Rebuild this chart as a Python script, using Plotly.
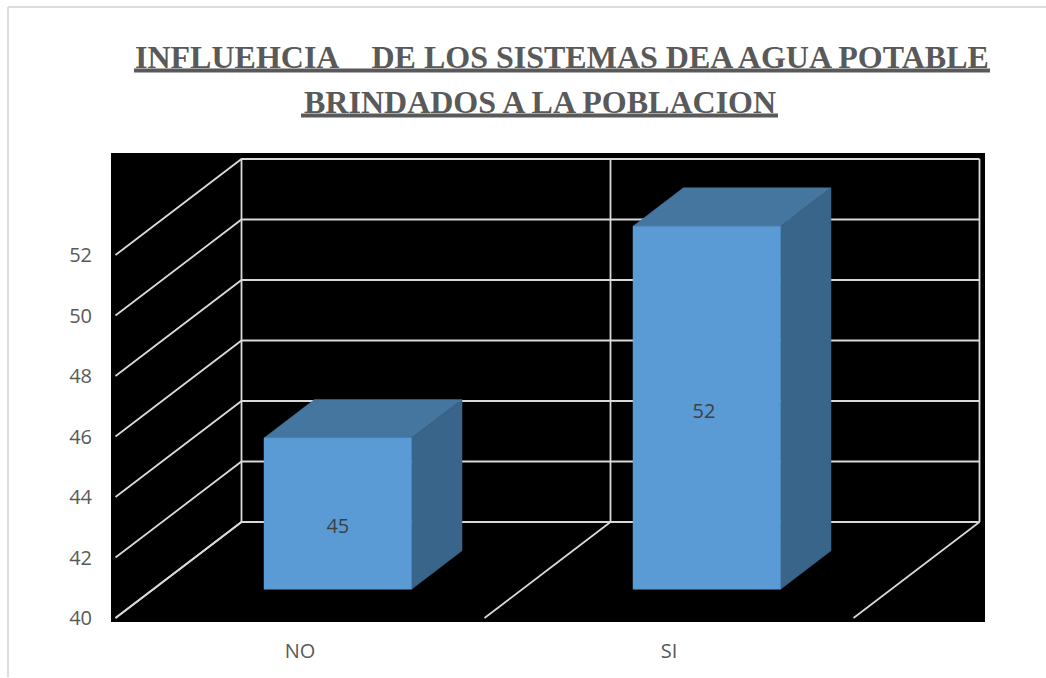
import plotly.graph_objects as go

categories = ["NO", "SI"]
values = [45, 52]
y_ticks = [40, 42, 44, 46, 48, 50, 52]
label_x = [0.1025, 1.095]
label_y = [42.02, 45.82]
title_lines = ["INFLUEHCIA\u00a0\u00a0\u00a0 DE LOS SISTEMAS DEA AGUA POTABLE",
               "BRINDADOS A LA POBLACION"]

W, H = 1046, 678
L, R, T, B = 111, 985, 153, 622
PX_PER_CAT, PX_PER_UNIT = 369.0, 30.25
X0_PX, Y40_PX = 300.0, 618.0
DX, DY = 126 / PX_PER_CAT, 96 / PX_PER_UNIT
BASE = 40
BAR_W = 0.4
D0, D1 = 0.30, 0.70
GRID = "#D9D9D9"
TXT = "#595959"
FONT = "Open Sans"


def pr(x, v, d):
    return x + d * DX, v + d * DY


def poly(pts, color):
    xs, ys = zip(*pts)
    return go.Scatter(x=list(xs) + [xs[0]], y=list(ys) + [ys[0]], mode="lines", fill="toself",
                      fillcolor=color, line=dict(color=color, width=0.5),
                      hoverinfo="skip", showlegend=False)


def seg(pts):
    xs, ys = zip(*pts)
    return go.Scatter(x=list(xs), y=list(ys), mode="lines", line=dict(color=GRID, width=1.8),
                      hoverinfo="skip", showlegend=False)


fig = go.Figure()
x_lo, x_hi = -0.5, len(categories) - 0.5
y_top = y_ticks[-1]

for v in y_ticks:
    fig.add_trace(seg([pr(x_lo, v, 0), pr(x_lo, v, 1), pr(x_hi, v, 1)]))
for i in range(len(categories) + 1):
    x = x_lo + i
    fig.add_trace(seg([pr(x, BASE, 0), pr(x, BASE, 1)]))
    fig.add_trace(seg([pr(x, BASE, 1), pr(x, y_top, 1)]))

for i, v in enumerate(values):
    a, b = i - BAR_W / 2, i + BAR_W / 2
    fig.add_trace(poly([pr(a, v, D0), pr(b, v, D0), pr(b, v, D1), pr(a, v, D1)], "#44769F"))
    fig.add_trace(poly([pr(b, BASE, D0), pr(b, v, D0), pr(b, v, D1), pr(b, BASE, D1)], "#3A658A"))
    fig.add_trace(poly([pr(a, BASE, D0), pr(b, BASE, D0), pr(b, v, D0), pr(a, v, D0)], "#5B9BD5"))

fig.add_trace(go.Scatter(x=label_x,
                         y=[ly + D0 * DY for ly in label_y],
                         mode="text", text=[str(v) for v in values],
                         textfont=dict(family=FONT, size=20, color="#404040"),
                         textposition="middle center", hoverinfo="skip", showlegend=False))

fig.update_xaxes(range=[(L - X0_PX) / PX_PER_CAT, (R - X0_PX) / PX_PER_CAT],
                 tickmode="array", tickvals=list(range(len(categories))), ticktext=categories,
                 showgrid=False, zeroline=False, showline=False, ticks="",
                 ticklabelstandoff=15, tickfont=dict(family=FONT, size=20, color=TXT))
fig.update_yaxes(range=[40 + (Y40_PX - B) / PX_PER_UNIT, 40 + (Y40_PX - T) / PX_PER_UNIT],
                 tickmode="array", tickvals=y_ticks,
                 showgrid=False, zeroline=False, showline=False, ticks="",
                 ticklabelstandoff=18, tickfont=dict(family=FONT, size=20, color=TXT))


def px(x):
    return (x - L) / (R - L)


def py(y):
    return (B - y) / (B - T)


fig.add_annotation(xref="paper", yref="paper", x=px(562), y=py(57), xanchor="center", yanchor="middle",
                   text="<b>%s</b>" % title_lines[0], showarrow=False,
                   font=dict(family="Liberation Serif", size=32, color=TXT))
fig.add_annotation(xref="paper", yref="paper", x=px(540), y=py(102), xanchor="center", yanchor="middle",
                   text="<b>%s</b>" % title_lines[1], showarrow=False,
                   font=dict(family="Liberation Serif", size=32, color=TXT))

for x0, x1, y in [(134, 990, 70.5), (301, 778, 115.5)]:
    fig.add_shape(type="line", xref="paper", yref="paper", x0=px(x0), x1=px(x1), y0=py(y), y1=py(y),
                  line=dict(color=TXT, width=4))

fig.add_shape(type="line", xref="paper", yref="paper", x0=px(8), x1=px(8), y0=py(7), y1=py(677),
              line=dict(color="#DDDDDD", width=2))
fig.add_shape(type="line", xref="paper", yref="paper", x0=px(8), x1=px(1046), y0=py(7), y1=py(7),
              line=dict(color="#DDDDDD", width=2))

fig.update_layout(width=W, height=H, autosize=False, paper_bgcolor="white", plot_bgcolor="black",
                  margin=dict(l=L, r=W - R, t=T, b=H - B), showlegend=False)
fig.write_html("out.html", config={"displayModeBar": False},
               post_script="document.body.style.margin='0';document.body.style.overflow='hidden';")
